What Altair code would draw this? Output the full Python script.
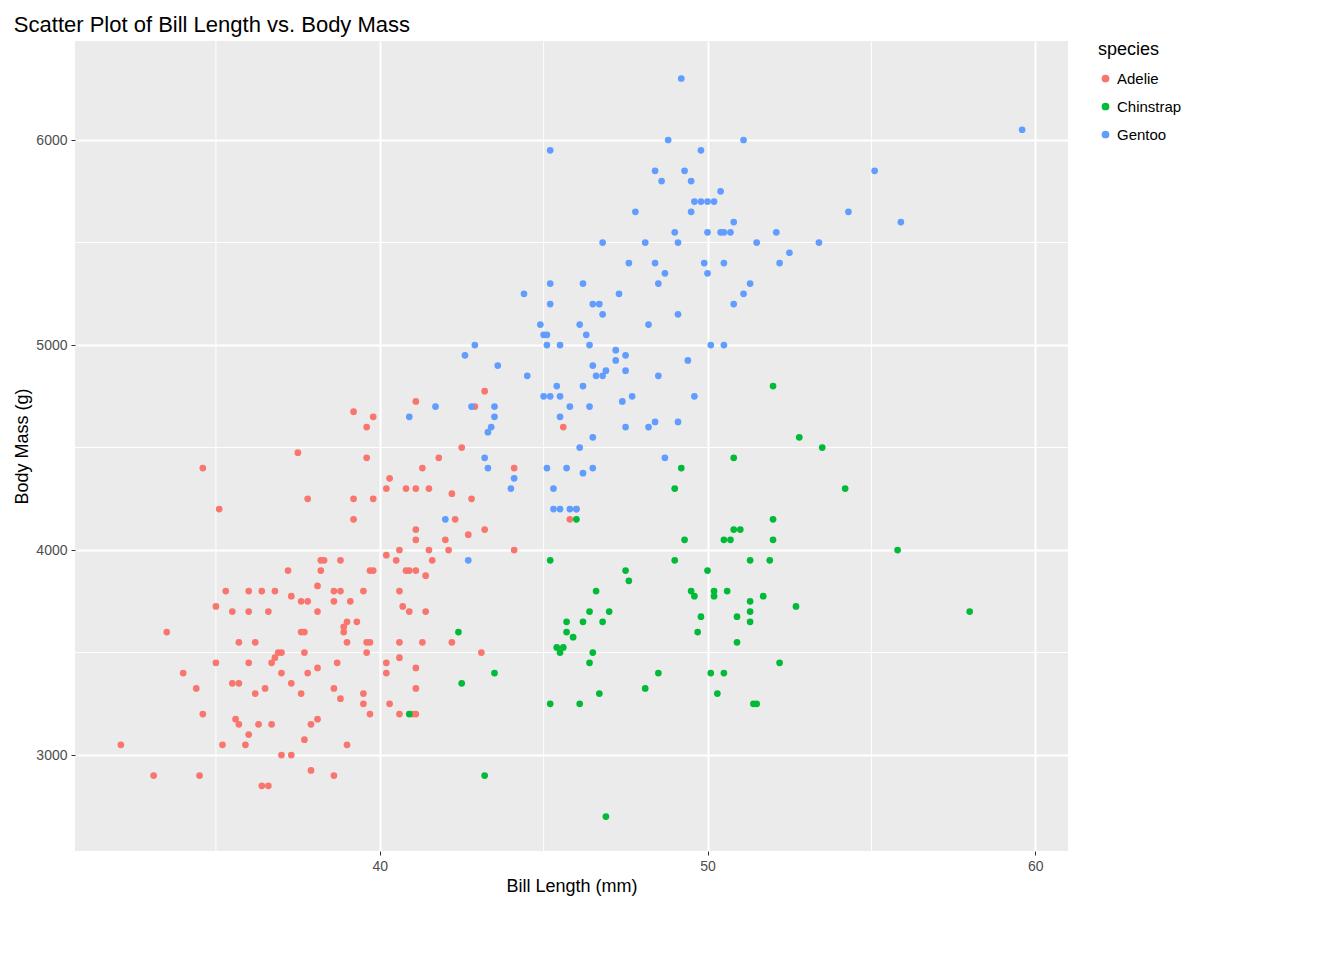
import altair as alt
import pandas as pd

adelie = [(32.1,3050),(33.1,2900),(33.5,3600),(34.0,3400),(34.4,3325),(34.5,2900),(34.6,3200),(34.6,4400),(35.0,3450),(35.0,3725),(35.1,4200),(35.2,3050),(35.3,3800),(35.5,3700),(35.5,3350),(35.6,3175),(35.7,3350),(35.7,3550),(35.7,3150),(35.9,3050),(36.0,3800),(36.0,3700),(36.0,3450),(36.0,3100),(36.2,3550),(36.2,3300),(36.3,3150),(36.4,3800),(36.4,2850),(36.5,3325),(36.6,2850),(36.6,3700),(36.7,3150),(36.7,3450),(36.8,3800),(36.8,3475),(36.9,3500),(37.0,3500),(37.0,3400),(37.0,3000),(37.2,3900),(37.3,3775),(37.3,3350),(37.3,3000),(37.5,4475),(37.6,3750),(37.6,3600),(37.6,3300),(37.7,3600),(37.7,3500),(37.7,3075),(37.8,4250),(37.8,3750),(37.8,3400),(37.9,3150),(37.9,2925),(38.1,3825),(38.1,3700),(38.1,3425),(38.1,3175),(38.2,3950),(38.2,3900),(38.3,3950),(38.6,3800),(38.6,3750),(38.6,3325),(38.6,2900),(38.7,3450),(38.8,3950),(38.8,3800),(38.8,3275),(38.9,3625),(38.9,3600),(39.0,3650),(39.0,3550),(39.0,3050),(39.1,3750),(39.2,4675),(39.2,4250),(39.2,4150),(39.3,3650),(39.5,3800),(39.5,3300),(39.5,3250),(39.6,4600),(39.6,4450),(39.6,3500),(39.6,3550),(39.7,3900),(39.7,3550),(39.7,3200),(39.8,4650),(39.8,4250),(39.8,3900),(40.2,4300),(40.2,3975),(40.2,3450),(40.2,3400),(40.3,4350),(40.3,3250),(40.5,3950),(40.6,4000),(40.6,3800),(40.6,3550),(40.6,3475),(40.6,3200),(40.7,3725),(40.8,4300),(40.8,3900),(40.9,3900),(40.9,3700),(41.0,3200),(41.1,4725),(41.1,4300),(41.1,4100),(41.1,4050),(41.1,3900),(41.1,3425),(41.1,3325),(41.1,3200),(41.3,4400),(41.3,3550),(41.4,3875),(41.4,3700),(41.5,4300),(41.5,4000),(41.6,3950),(41.8,4450),(42.0,4050),(42.1,4000),(42.2,4275),(42.3,4150),(42.2,3550),(42.5,4500),(42.7,4075),(42.8,4250),(42.9,4700),(43.1,3500),(43.2,4775),(43.2,4100),(44.1,4400),(44.1,4000),(45.6,4600),(45.8,4150),(46.0,4200)]

chinstrap = [(40.9,3200),(42.4,3600),(42.5,3350),(43.2,2900),(43.5,3400),(45.2,3950),(45.2,3250),(45.4,3525),(45.5,3500),(45.6,3525),(45.7,3650),(45.7,3600),(45.9,3575),(46.0,4150),(46.1,3250),(46.2,3650),(46.4,3700),(46.4,3450),(46.5,3500),(46.6,3800),(46.7,3300),(46.8,3650),(46.9,2700),(47.0,3700),(47.5,3900),(47.6,3850),(48.1,3325),(48.5,3400),(49.0,4300),(49.0,3950),(49.2,4400),(49.3,4050),(49.5,3800),(49.6,3775),(49.7,3600),(49.8,3675),(50.0,3900),(50.1,3400),(50.2,3800),(50.2,3775),(50.3,3300),(50.5,4050),(50.5,3400),(50.6,3800),(50.7,4050),(50.8,4100),(50.8,4450),(50.9,3675),(50.9,3550),(51.0,4100),(51.3,3950),(51.3,3750),(51.3,3700),(51.3,3650),(51.4,3250),(51.5,3250),(51.7,3775),(51.9,3950),(52.0,4800),(52.0,4150),(52.0,4050),(52.2,3450),(52.7,3725),(52.8,4550),(53.5,4500),(54.2,4300),(55.8,4000),(58.0,3700)]

gentoo = [(40.9,4650),(41.7,4700),(42.0,4150),(42.6,4950),(42.7,3950),(42.8,4700),(42.9,5000),(43.2,4450),(43.3,4575),(43.3,4400),(43.4,4600),(43.5,4650),(43.5,4700),(43.6,4900),(44.0,4300),(44.1,4350),(44.4,5250),(44.5,4850),(44.9,5100),(45.0,4750),(45.0,5050),(45.1,5000),(45.1,5050),(45.2,5950),(45.2,5300),(45.2,5200),(45.2,4750),(45.1,4400),(45.3,4300),(45.3,4200),(45.4,4800),(45.5,4750),(45.5,4650),(45.5,5000),(45.5,4200),(45.7,4400),(45.8,4200),(45.8,4700),(46.0,4200),(46.1,4500),(46.1,5100),(46.2,5300),(46.2,4800),(46.2,4375),(46.3,5050),(46.4,5000),(46.4,4700),(46.5,4900),(46.5,4550),(46.5,5200),(46.5,4400),(46.6,4850),(46.7,5200),(46.8,5150),(46.8,5500),(46.8,4850),(46.9,4875),(47.2,4925),(47.2,4975),(47.3,5250),(47.4,4725),(47.5,4875),(47.5,4950),(47.5,4600),(47.6,5400),(47.7,4750),(47.8,5650),(48.1,5500),(48.2,5100),(48.2,4600),(48.4,5850),(48.4,4625),(48.4,5400),(48.5,5300),(48.5,4850),(48.6,5800),(48.7,5350),(48.7,4450),(48.8,6000),(49.0,5550),(49.1,5500),(49.1,5150),(49.1,4625),(49.2,6300),(49.3,5850),(49.4,4925),(49.5,5800),(49.5,5650),(49.6,5700),(49.6,4750),(49.8,5950),(49.8,5700),(49.9,5400),(50.0,5700),(50.0,5550),(50.0,5350),(50.1,5000),(50.2,5700),(50.4,5550),(50.4,5750),(50.5,5550),(50.5,5400),(50.5,5000),(50.7,5550),(50.8,5600),(50.8,5200),(51.1,6000),(51.1,5250),(51.3,5300),(51.5,5500),(52.1,5550),(52.2,5400),(52.5,5450),(53.4,5500),(54.3,5650),(55.1,5850),(55.9,5600),(59.6,6050)]

species = ["Adelie", "Chinstrap", "Gentoo"]
colors = ["#F8766D", "#00BA38", "#619CFF"]
minor_x = [35, 45, 55]
minor_y = [3500, 4500, 5500]

rows = []
for name, pts in zip(species, [adelie, chinstrap, gentoo]):
    for bl, bm in pts:
        rows.append({"species": name, "bill_length": bl, "body_mass": bm})
df = pd.DataFrame(rows)

xs = alt.Scale(domain=[30.7, 61.0], nice=False, zero=False)
ys = alt.Scale(domain=[2532, 6483], nice=False, zero=False)

vrules = alt.Chart(pd.DataFrame({"v": minor_x})).mark_rule(color="white", strokeWidth=1).encode(
    x=alt.X("v:Q", scale=xs))
hrules = alt.Chart(pd.DataFrame({"v": minor_y})).mark_rule(color="white", strokeWidth=1).encode(
    y=alt.Y("v:Q", scale=ys))

points = alt.Chart(df).mark_circle(size=45, opacity=1).encode(
    x=alt.X("bill_length:Q", scale=xs, title="Bill Length (mm)",
            axis=alt.Axis(values=[40, 50, 60], format="d")),
    y=alt.Y("body_mass:Q", scale=ys, title="Body Mass (g)",
            axis=alt.Axis(values=[3000, 4000, 5000, 6000], format="d")),
    color=alt.Color("species:N", scale=alt.Scale(domain=species, range=colors),
                    legend=alt.Legend(title="species", symbolType="circle", symbolSize=60)),
)

chart = alt.layer(vrules, hrules, points).properties(
    width=993, height=810,
    title=alt.TitleParams("Scatter Plot of Bill Length vs. Body Mass", anchor="start",
                          fontSize=22, fontWeight="normal", font="Liberation Sans", color="black"),
).configure_view(fill="#EBEBEB", stroke=None).configure_axis(
    grid=True, gridColor="white", gridWidth=2, domain=False,
    tickColor="#333333", tickSize=4, labelColor="#4D4D4D", labelFontSize=14,
    labelFont="Liberation Sans", titleFont="Liberation Sans", titleFontSize=18,
    titleFontWeight="normal", titleColor="black", labelPadding=4,
).configure_legend(
    titleFont="Liberation Sans", titleFontSize=18, titleFontWeight="normal", titleColor="black",
    labelFont="Liberation Sans", labelFontSize=15, rowPadding=12, offset=30, orient="right",
    padding=0, titlePadding=12,
)

chart.save("out.html", embed_options={"renderer": "svg", "actions": False})
